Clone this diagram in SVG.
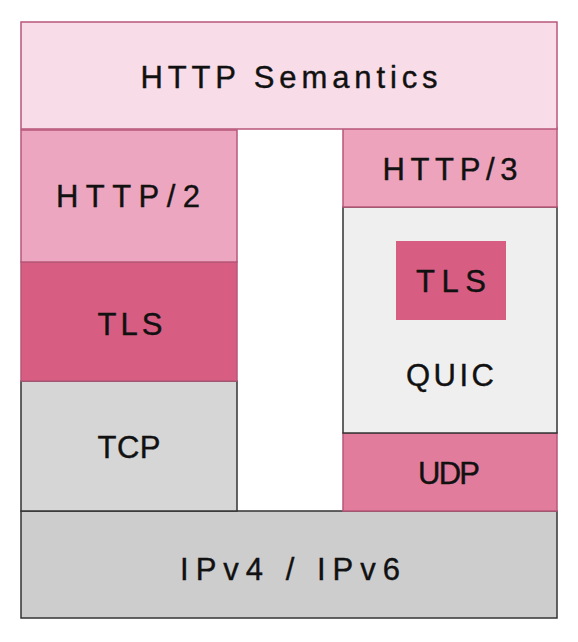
<svg xmlns="http://www.w3.org/2000/svg" width="578" height="642" viewBox="0 0 578 642">
<style>
.box{stroke-width:1.5}
.pk{stroke:#b8577a}
.gy{stroke:#333}
text{font-family:"Liberation Sans","DejaVu Sans",sans-serif;font-size:31px;fill:#111;text-anchor:middle;stroke:#111;stroke-width:0.4}
</style>
<rect width="578" height="642" fill="#fff"/>
<g id="ipv">
<rect class="box gy" x="21" y="511" width="536" height="107" fill="#cdcdcd"/>
<text x="290" y="580" textLength="220" lengthAdjust="spacing">IPv4 / IPv6</text>
</g>
<g id="tcp">
<rect class="box gy" x="21" y="381" width="216" height="130" fill="#d6d6d6"/>
<text x="129" y="458" textLength="63" lengthAdjust="spacing">TCP</text>
</g>
<g id="tls-left">
<rect class="box pk" x="21" y="262" width="216" height="119" fill="#d75e82"/>
<text x="130" y="335" textLength="65" lengthAdjust="spacing">TLS</text>
</g>
<g id="http2">
<rect class="box pk" x="21" y="130" width="216" height="132" fill="#eda6bf"/>
<text x="128" y="207" textLength="144" lengthAdjust="spacing">HTTP/2</text>
</g>
<g id="udp">
<rect class="box pk" x="343" y="433" width="214" height="78" fill="#e27c9c"/>
<text x="449" y="484" textLength="62" lengthAdjust="spacing">UDP</text>
</g>
<g id="quic">
<rect class="box gy" x="343" y="207" width="214" height="226" fill="#efefef"/>
<text x="450" y="386" textLength="88" lengthAdjust="spacing">QUIC</text>
</g>
<g id="tls-quic">
<rect x="396" y="241" width="110" height="79" fill="#d75e82"/>
<text x="451" y="292" textLength="70" lengthAdjust="spacing">TLS</text>
</g>
<g id="http3">
<rect class="box pk" x="343" y="128" width="214" height="79" fill="#eda3bc"/>
<text x="450" y="180" textLength="135" lengthAdjust="spacing">HTTP/3</text>
</g>
<g id="semantics">
<rect class="box pk" x="21" y="22" width="536" height="107" fill="#f8dce8"/>
<text x="289" y="88" textLength="297" lengthAdjust="spacing">HTTP Semantics</text>
</g>
<g id="connectors"></g>
</svg>
